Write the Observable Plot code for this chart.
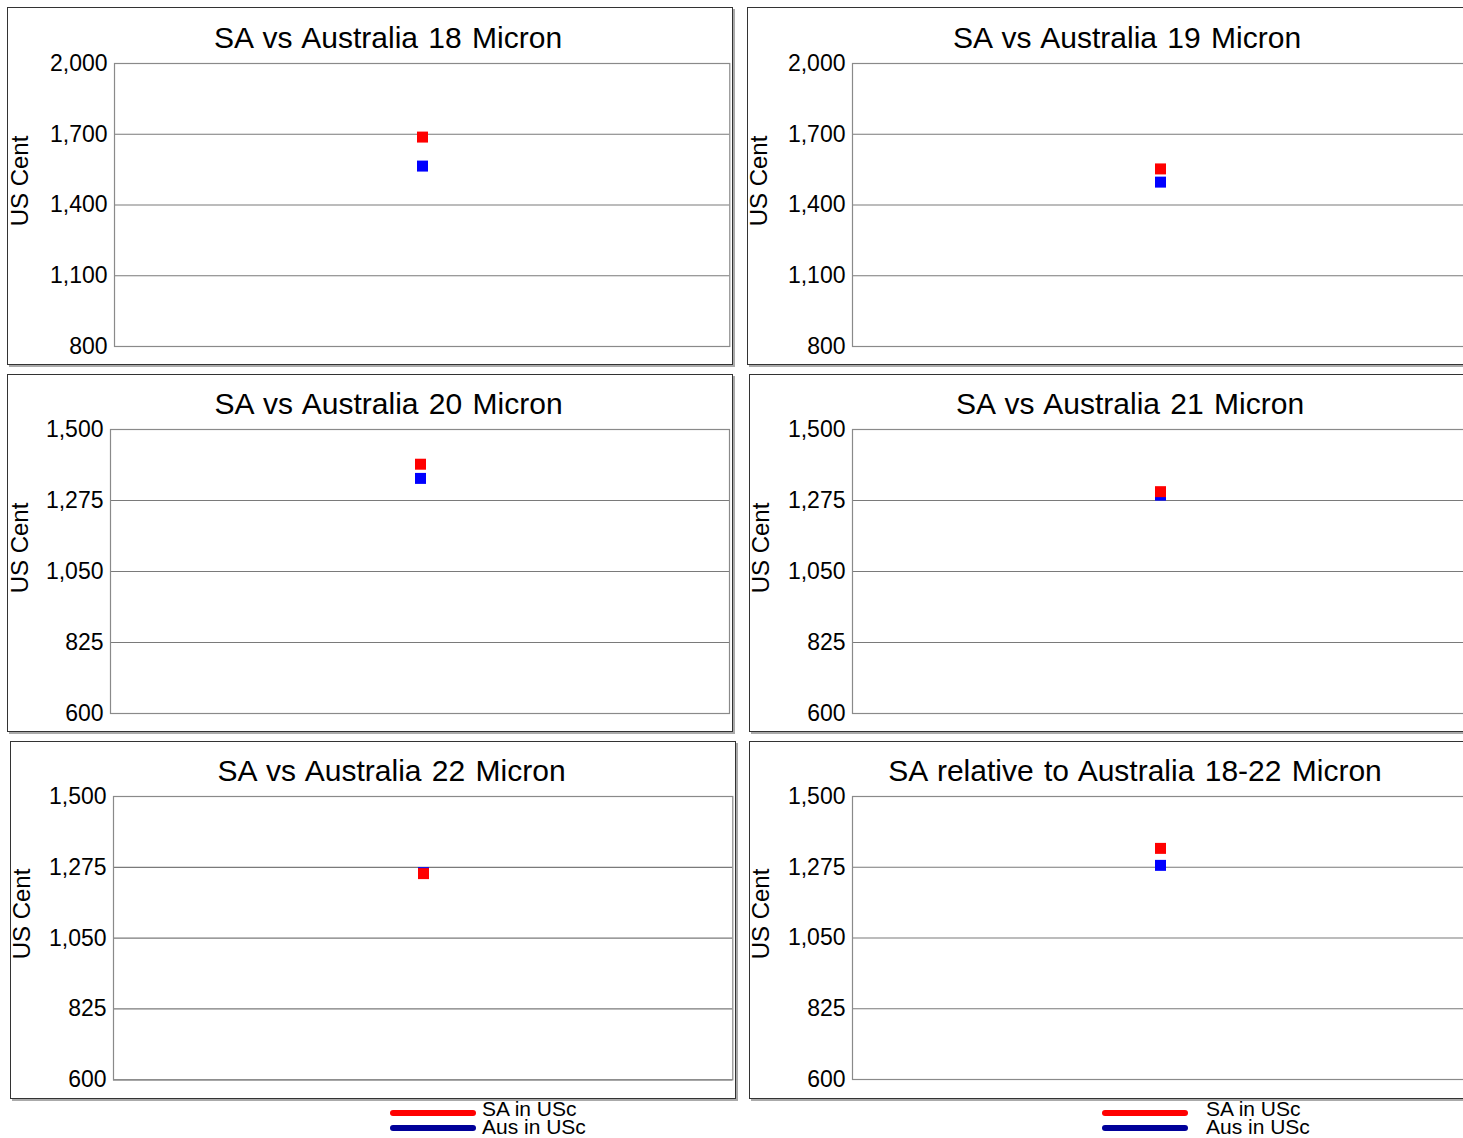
<!DOCTYPE html>
<html><head><meta charset="utf-8">
<script src="https://cdn.jsdelivr.net/npm/d3@7"></script>
<script src="https://cdn.jsdelivr.net/npm/@observablehq/plot@0.6"></script>
<style>
body{margin:0;overflow:hidden;background:#fff;font-family:"Liberation Sans",Arial,sans-serif;color:#000;}
#root{position:relative;width:1463px;height:1138px;overflow:hidden;background:#fff;}
.panel{position:absolute;box-sizing:border-box;border:1.5px solid #333;box-shadow:2px 2px 0 #aaa;background:#fff;}
.title{position:absolute;font-size:30px;line-height:30px;white-space:nowrap;transform:translateX(-50%);word-spacing:2px;}
.ylab{position:absolute;font-size:24px;line-height:24px;white-space:nowrap;transform:translate(-50%,-50%) rotate(-90deg);}
.plotbox{position:absolute;}
.plotbox svg{overflow:visible;max-width:none;}
.lgline{position:absolute;height:6px;border-radius:3px;}
.lgtext{position:absolute;font-size:21px;line-height:17px;white-space:nowrap;}
</style>
</head><body>
<div id="root"></div>
<script>
// ---- data ----
const categories = ["18 Micron", "19 Micron", "20 Micron", "21 Micron", "22 Micron", "18-22 Micron"];
const titles = ["SA vs Australia 18 Micron", "SA vs Australia 19 Micron", "SA vs Australia 20 Micron",
                "SA vs Australia 21 Micron", "SA vs Australia 22 Micron", "SA relative to Australia 18-22 Micron"];
const seriesNames = ["SA in USc", "Aus in USc"];
const saValues  = [1688, 1553, 1390, 1303, 1255, 1335];
const ausValues = [1565, 1497, 1345, 1292, 1258, 1281];
const yDomains = [[800, 2000], [800, 2000], [600, 1500], [600, 1500], [600, 1500], [600, 1500]];
const yTicks = [
  [800, 1100, 1400, 1700, 2000],
  [800, 1100, 1400, 1700, 2000],
  [600, 825, 1050, 1275, 1500],
  [600, 825, 1050, 1275, 1500],
  [600, 825, 1050, 1275, 1500],
  [600, 825, 1050, 1275, 1500]
];
const yLabel = "US Cent";

// ---- layout (page pixels) ----
const panelBoxes = [ // left, top, width, height
  [7, 7, 726, 358], [746.5, 7, 726, 358],
  [7, 374, 726, 358], [749, 374, 726, 358],
  [9.5, 740.5, 726, 358], [749, 740.5, 726, 358]
];
const frames = [ // x0, x1, y0, y1
  [114, 729.3, 63, 346], [852, 1468, 63, 346],
  [110, 729, 429, 713], [852, 1468, 429, 713],
  [113, 732.3, 796, 1079.3], [852, 1468, 796, 1079]
];
const titlePos = [[388, 48.3], [1127, 48.3], [388.5, 414.8], [1130, 414.8], [391.5, 781.3], [1135, 781.3]];
const ylabPos = [[19.5, 181], [759, 181], [19.5, 547.5], [761, 547.5], [22, 914], [761, 914]];
const colors = ["#ff0000", "#0000ff"];
const legendColors = ["#ff0000", "#000099"];
const legends = [[390, 482], [1102, 1206]]; // line x0, text x

const root = document.getElementById("root");
const fmt = d3.format(",");

categories.forEach((cat, i) => {
  const [pl, pt, pw, ph] = panelBoxes[i];
  const p = document.createElement("div");
  p.className = "panel";
  Object.assign(p.style, {left: pl + "px", top: pt + "px", width: pw + "px", height: ph + "px"});
  root.appendChild(p);

  const t = document.createElement("div");
  t.className = "title";
  t.textContent = titles[i];
  t.style.left = titlePos[i][0] + "px";
  t.style.top = (titlePos[i][1] - 25.4) + "px";
  root.appendChild(t);

  const yl = document.createElement("div");
  yl.className = "ylab";
  yl.textContent = yLabel;
  yl.style.left = ylabPos[i][0] + "px";
  yl.style.top = ylabPos[i][1] + "px";
  root.appendChild(yl);

  const [fx0, fx1, fy0, fy1] = frames[i];
  const ml = 110, mr = 4, mt = 15, mb = 15;
  const data = [
    {cat, series: seriesNames[1], value: ausValues[i]},
    {cat, series: seriesNames[0], value: saValues[i]}
  ];
  const chart = Plot.plot({
    width: fx1 - fx0 + ml + mr,
    height: fy1 - fy0 + mt + mb,
    marginLeft: ml, marginRight: mr, marginTop: mt, marginBottom: mb,
    style: {background: "transparent", fontFamily: '"Liberation Sans", Arial, sans-serif', fontSize: "23px", color: "#000", overflow: "visible"},
    x: {type: "point", domain: [cat], axis: null},
    y: {domain: yDomains[i], axis: null, label: null},
    color: {domain: seriesNames, range: colors},
    marks: [
      Plot.ruleY(yTicks[i], {stroke: "#7a7a7a", strokeWidth: 1.2}),
      Plot.frame({stroke: "#8a8a8a", strokeWidth: 1.2}),
      Plot.axisY({ticks: yTicks[i], tickSize: 0, tickPadding: 7, tickFormat: fmt, fontSize: 23, label: null}),
      Plot.dot(data, {x: "cat", y: "value", fill: "series", symbol: "square", r: 6.2})
    ]
  });
  const box = document.createElement("div");
  box.className = "plotbox";
  box.style.left = (fx0 - ml) + "px";
  box.style.top = (fy0 - mt) + "px";
  box.appendChild(chart);
  root.appendChild(box);
});

// legend text: 21px font, line-height 17px -> baseline ~15.6px below box top
legends.forEach(([lx, tx]) => {
  seriesNames.forEach((name, j) => {
    const ln = document.createElement("div");
    ln.className = "lgline";
    Object.assign(ln.style, {left: lx + "px", width: "86px", top: (j === 0 ? 1110.2 : 1124.8) + "px", background: legendColors[j]});
    root.appendChild(ln);
    const tx_ = document.createElement("div");
    tx_.className = "lgtext";
    tx_.textContent = name;
    tx_.style.left = tx + "px";
    tx_.style.top = (j === 0 ? 1115.2 - 15.6 : 1133.3 - 15.6) + "px";
    root.appendChild(tx_);
  });
});
</script>
</body></html>
